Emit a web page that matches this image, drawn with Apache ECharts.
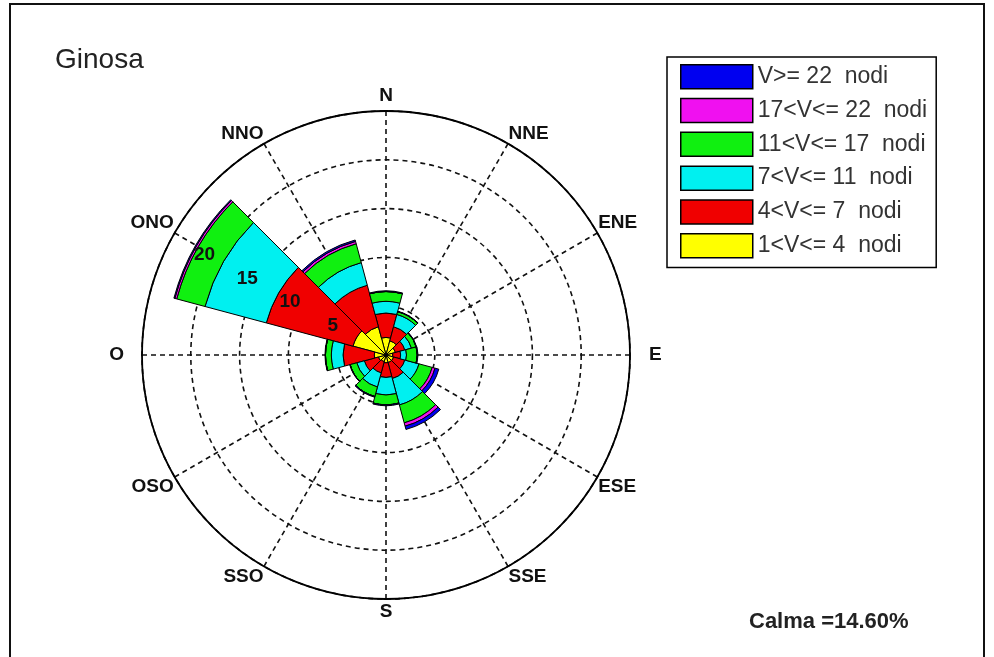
<!DOCTYPE html>
<html><head><meta charset="utf-8">
<script src="https://cdn.jsdelivr.net/npm/echarts@6/dist/echarts.min.js"></script>
<style>html,body{margin:0;padding:0;background:#fff}#c{width:994px;height:657px}</style>
</head><body><div id="c"></div>
<script>
// ---- data ----
const directionLabels = ['N','NNE','ENE','E','ESE','SSE','S','SSO','OSO','O','ONO','NNO'];
const directionAngles = [0,30,60,90,120,150,180,210,240,270,300,330];
const radiusTicks = [0,5,10,15,20,25];
const classNames = ['1<V<= 4  nodi','4<V<= 7  nodi','7<V<= 11  nodi','11<V<= 17  nodi','17<V<= 22  nodi','V>= 22  nodi'];
// frequency (%) per direction, per speed class (stacked from centre outward)
const v1to4   = [1.8, 1.5, 1.0, 0.7, 0.8, 0.8, 0.8, 0.7, 0.8, 1.2, 3.5, 3.0];
const v4to7   = [2.5, 1.5, 1.0, 0.8, 1.2, 1.7, 1.5, 1.2, 1.5, 3.2, 9.2, 4.4];
const v7to11  = [1.2, 1.3, 0.7, 0.6, 1.5, 2.8, 1.8, 1.5, 0.8, 1.2, 6.5, 2.4];
const v11to17 = [1.0, 0.3, 0.5, 1.1, 1.4, 1.9, 1.0, 1.0, 0.7, 0.6, 3.0, 2.0];
const v17to22 = [0.0, 0.0, 0.0, 0.0, 0.3, 0.35,0.0, 0.0, 0.0, 0.0, 0.2, 0.25];
const v22up   = [0.08,0.05,0.05,0.08,0.4, 0.35,0.1, 0.08,0.05,0.05,0.1, 0.15];
const calmText = 'Calma =14.60%';
const stationName = 'Ginosa';

// ---- styles ----
const classColors = ['#ffff00','#f00000','#00f0f0','#10f010','#f010f0','#0000f0'];
const FONT = 'Liberation Sans';
const series = [v1to4, v4to7, v7to11, v11to17, v17to22, v22up].map((vals, k) => ({
  type: 'bar', coordinateSystem: 'polar', polarIndex: 0, stack: 'rose', name: classNames[k],
  barWidth: '100%',
  data: vals.map((v, i) => [v, directionAngles[i]]),
  itemStyle: { color: classColors[k], borderColor: '#000', borderWidth: 1 },
  emphasis: { disabled: true }, animation: false
}));

const padKey = { N: 'b', E: 'l', S: 't', O: 'r' };
const labStyle = (pad) => ({ fontFamily: FONT, fontSize: 19, fontWeight: 'bold', color: '#111', padding: pad });
const dashLine = { color: '#111', width: 1.6, type: [5, 4] };

const chart = echarts.init(document.getElementById('c'));
chart.setOption({
  animation: false,
  backgroundColor: '#fff',
  title: [
    { text: stationName, left: 55, top: 46, padding: 0,
      textStyle: { fontFamily: FONT, fontSize: 28, fontWeight: 'normal', color: '#222' } },
    { text: calmText, left: 749, top: 611, padding: 0,
      textStyle: { fontFamily: FONT, fontSize: 22, fontWeight: 'bold', color: '#222' } }
  ],
  legend: {
    orient: 'vertical', left: 667, top: 57,
    data: classNames.slice().reverse(),
    icon: 'rect', itemWidth: 72, itemHeight: 24, itemGap: 8.3,
    padding: [7, 9, 9, 13], borderColor: '#000', borderWidth: 1.5, backgroundColor: '#fff',
    itemStyle: { borderColor: '#000', borderWidth: 1.5 },
    textStyle: { fontFamily: FONT, fontSize: 23, color: '#333' },
    selectedMode: false
  },
  polar: [
    { center: [386, 355], radius: 244 },
    { center: [375.5, 349.2], radius: 244 }
  ],
  angleAxis: [
    { polarIndex: 0, type: 'value', min: 0, max: 360, interval: 30, startAngle: 90, clockwise: true,
      axisLine: { lineStyle: { color: '#000', width: 1.8 } },
      axisTick: { show: false },
      splitLine: { show: true, lineStyle: dashLine },
      axisLabel: {
        margin: 1,
        formatter: (v) => {
          const i = Math.round(v / 30);
          if (i >= 12) return '';
          const n = directionLabels[i];
          return '{' + (padKey[n] || 'n') + '|' + n + '}';
        },
        rich: {
          n: labStyle([0, 0, 0, 0]),
          b: labStyle([0, 0, 5, 0]),
          t: labStyle([2, 0, 0, 0]),
          r: labStyle([0, 17, 0, 0]),
          l: labStyle([0, 0, 0, 18])
        }
      }
    },
    { polarIndex: 1, type: 'value', min: 0, max: 360, startAngle: 151.2, clockwise: true, show: false }
  ],
  radiusAxis: [
    { polarIndex: 0, type: 'value', min: radiusTicks[0], max: radiusTicks[radiusTicks.length - 1], interval: 5,
      axisLine: { show: false }, axisTick: { show: false }, axisLabel: { show: false },
      splitLine: { show: true, lineStyle: dashLine } },
    { polarIndex: 1, type: 'value', min: radiusTicks[0], max: radiusTicks[radiusTicks.length - 1], interval: 5, z: 10,
      axisLine: { show: false }, axisTick: { show: false }, splitLine: { show: false },
      axisLabel: { margin: 0, align: 'center', verticalAlign: 'middle',
        formatter: (v) => (v === radiusTicks[0] || v === radiusTicks[radiusTicks.length - 1]) ? '' : String(v),
        fontFamily: FONT, fontSize: 19, fontWeight: 'bold', color: '#111' } }
  ],
  graphic: [
    { type: 'polyline', z: 100, silent: true,
      shape: { points: [[10, 670], [10, 4], [984, 4], [984, 670]] },
      style: { stroke: '#111', lineWidth: 2, fill: null } }
  ],
  series
});
</script></body></html>
